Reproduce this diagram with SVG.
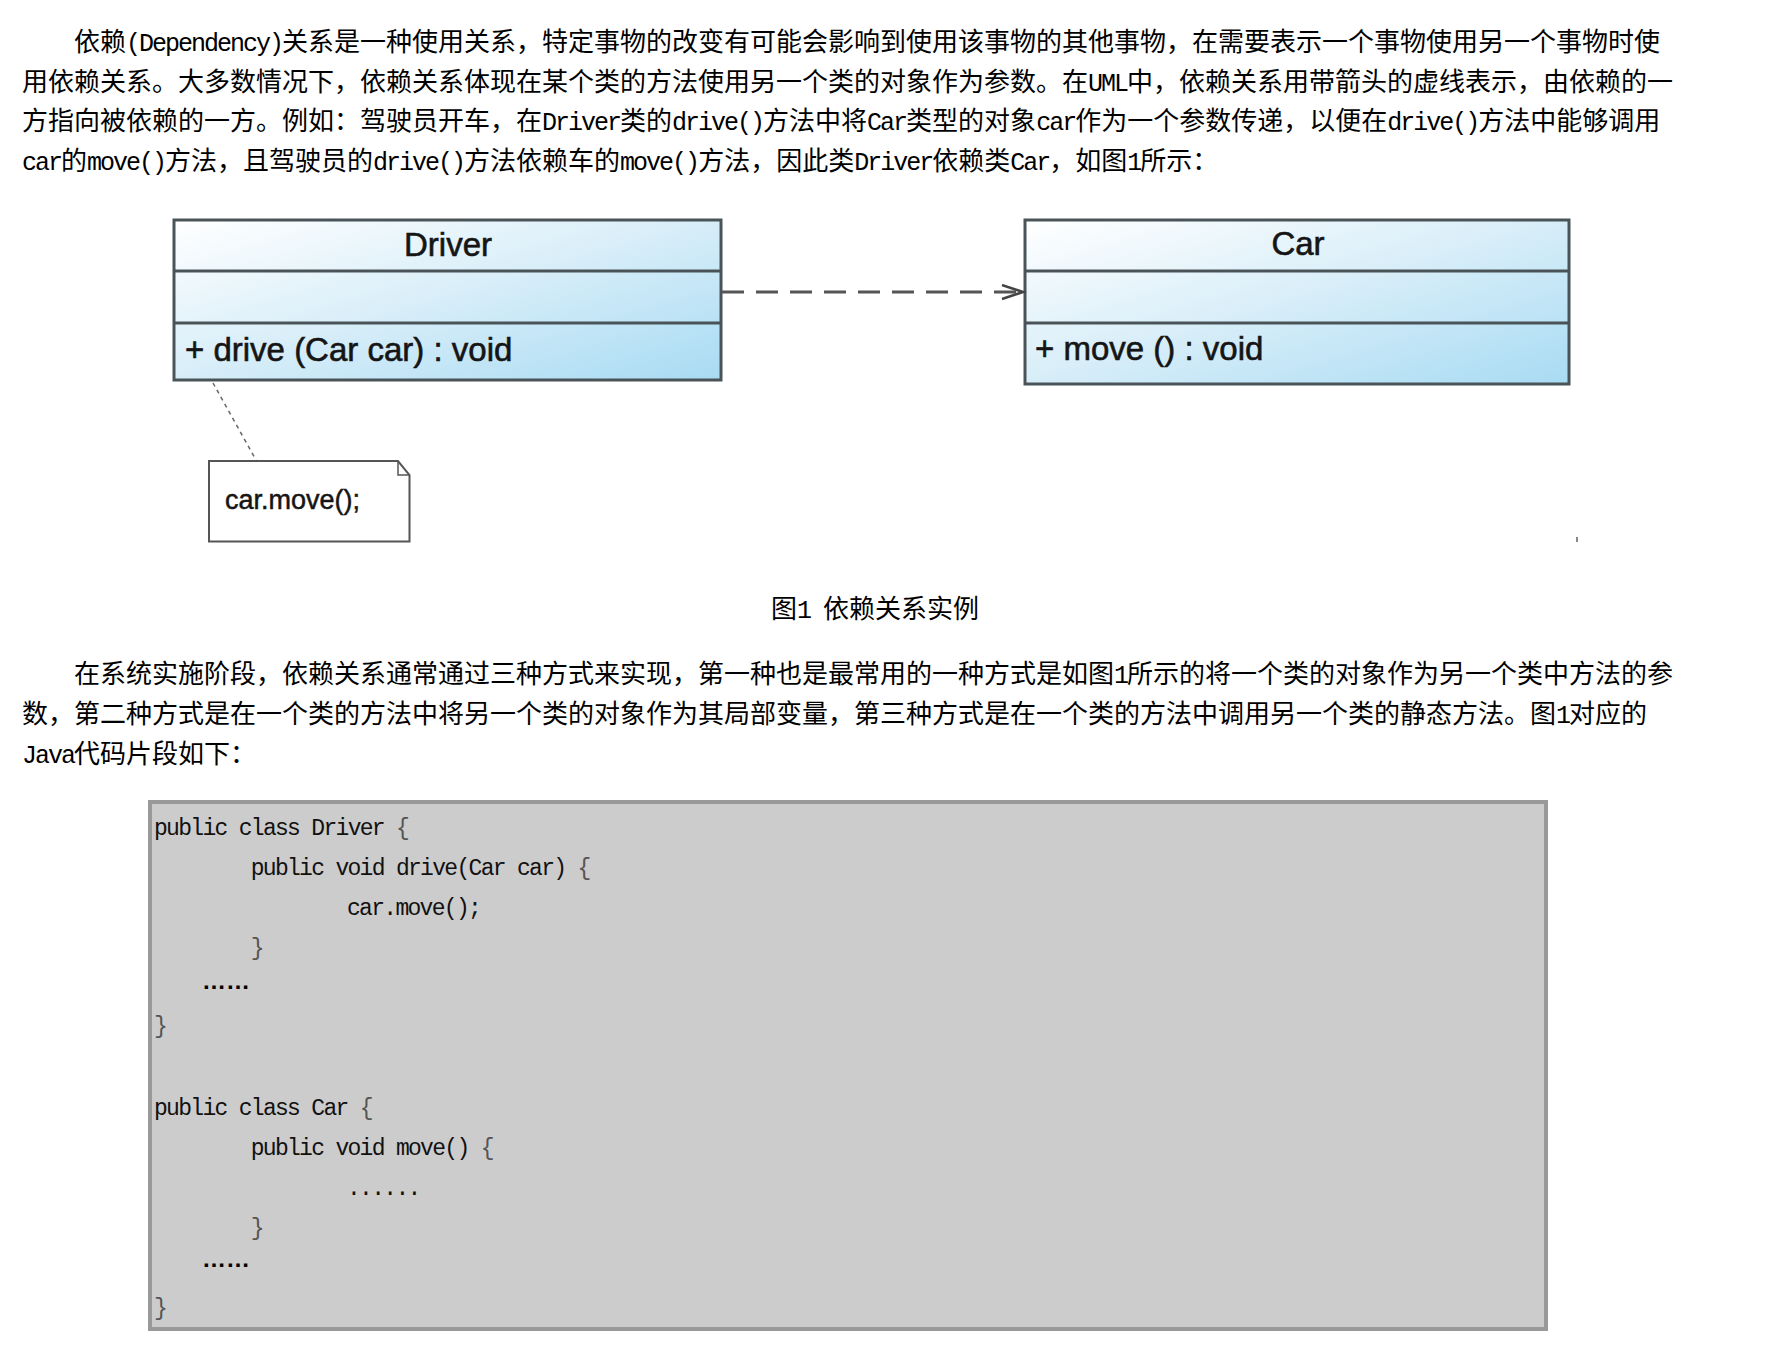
<svg xmlns="http://www.w3.org/2000/svg" width="1776" height="1352" viewBox="0 0 1776 1352">
<defs>
<linearGradient id="cls" x1="0" y1="0" x2="1" y2="1">
<stop offset="0" stop-color="#ffffff"/>
<stop offset="0.45" stop-color="#dbeff9"/>
<stop offset="1" stop-color="#a8dbf3"/>
</linearGradient>
<marker id="open" markerUnits="userSpaceOnUse" markerWidth="26" markerHeight="18" refX="22" refY="8" orient="auto">
<path d="M1,1 L22,8 L1,15" fill="none" stroke="#444" stroke-width="2.5" stroke-dasharray="none"/>
</marker>
</defs>
<style>
.p{font-family:"Noto Sans CJK SC","Noto Sans CJK JP",sans-serif;font-size:26px;fill:#000}
.lat{font-family:"Liberation Mono",monospace;font-size:25px;letter-spacing:-2px}
.box{fill:url(#cls);stroke:#4a5458;stroke-width:3}
.div{stroke:#4a5458;stroke-width:3}
.uml{font-family:"Liberation Sans",Arial,sans-serif;font-size:33px;fill:#151515;stroke:#151515;stroke-width:0.6}
.code{font-family:"Liberation Mono",monospace;font-size:23px;letter-spacing:-1.7px;fill:#111}
.br{fill:#555}
.dots{font-family:"Liberation Sans",Arial,sans-serif;font-size:24px;font-weight:bold;fill:#000}
</style>
<rect width="1776" height="1352" fill="#ffffff"/>

<g id="paragraph1" class="p">
<text x="74" y="51">依赖<tspan class="lat">(Dependency)</tspan>关系是一种使用关系，特定事物的改变有可能会影响到使用该事物的其他事物，在需要表示一个事物使用另一个事物时使</text>
<text x="22" y="90.7">用依赖关系。大多数情况下，依赖关系体现在某个类的方法使用另一个类的对象作为参数。在<tspan class="lat">UML</tspan>中，依赖关系用带箭头的虚线表示，由依赖的一</text>
<text x="22" y="130.3">方指向被依赖的一方。例如：驾驶员开车，在<tspan class="lat">Driver</tspan>类的<tspan class="lat">drive()</tspan>方法中将<tspan class="lat">Car</tspan>类型的对象<tspan class="lat">car</tspan>作为一个参数传递，以便在<tspan class="lat">drive()</tspan>方法中能够调用</text>
<text x="22" y="170"><tspan class="lat">car</tspan>的<tspan class="lat">move()</tspan>方法，且驾驶员的<tspan class="lat">drive()</tspan>方法依赖车的<tspan class="lat">move()</tspan>方法，因此类<tspan class="lat">Driver</tspan>依赖类<tspan class="lat">Car</tspan>，如图<tspan class="lat">1</tspan>所示：</text>
</g>

<g id="driver">
<rect class="box" x="174" y="220" width="547" height="160"/>
<line class="div" x1="174" y1="271" x2="721" y2="271"/>
<line class="div" x1="174" y1="323" x2="721" y2="323"/>
<text class="uml" x="448" y="256" text-anchor="middle">Driver</text>
<text class="uml" x="185" y="361">+ drive (Car car) : void</text>
</g>

<g id="car">
<rect class="box" x="1025" y="220" width="544" height="164"/>
<line class="div" x1="1025" y1="271" x2="1569" y2="271"/>
<line class="div" x1="1025" y1="323" x2="1569" y2="323"/>
<text class="uml" x="1298" y="255" text-anchor="middle">Car</text>
<text class="uml" x="1035" y="360">+ move () : void</text>
</g>

<g id="note">
<path d="M209,461 H398 L409.5,475 V541.5 H209 Z" fill="#ffffff" stroke="#555" stroke-width="2"/>
<path d="M398,461 V475 H409.5" fill="none" stroke="#555" stroke-width="1.5"/>
<text x="225" y="509" font-family="Liberation Sans, Arial, sans-serif" font-size="27" fill="#151515" stroke="#151515" stroke-width="0.5">car.move();</text>
</g>

<g id="connectors">
<path d="M722,292 H1023" fill="none" stroke="#555" stroke-width="3" stroke-dasharray="22 12" marker-end="url(#open)"/>
<path d="M213,383 L256,460" fill="none" stroke="#666" stroke-width="1.5" stroke-dasharray="4 4"/>
</g>

<rect x="1576" y="537" width="2" height="5" fill="#888"/>

<g id="caption" class="p">
<text x="771" y="618">图<tspan class="lat">1 </tspan>依赖关系实例</text>
</g>

<g id="paragraph2" class="p">
<text x="74" y="683">在系统实施阶段，依赖关系通常通过三种方式来实现，第一种也是最常用的一种方式是如图<tspan class="lat">1</tspan>所示的将一个类的对象作为另一个类中方法的参</text>
<text x="22" y="723">数，第二种方式是在一个类的方法中将另一个类的对象作为其局部变量，第三种方式是在一个类的方法中调用另一个类的静态方法。图<tspan class="lat">1</tspan>对应的</text>
<text x="22" y="763"><tspan class="lat">Java</tspan>代码片段如下：</text>
</g>

<g id="code">
<rect x="150" y="802" width="1396" height="527" fill="#cccccc" stroke="#999999" stroke-width="4"/>
<text class="code" x="154" y="835">public class Driver <tspan class="br">{</tspan></text>
<text class="code" x="250.7" y="875">public void drive(Car car) <tspan class="br">{</tspan></text>
<text class="code" x="347" y="915">car.move();</text>
<text class="code br" x="250.7" y="955">}</text>
<text class="dots" x="202" y="989">……</text>
<text class="code br" x="154" y="1033">}</text>
<text class="code" x="154" y="1115">public class Car <tspan class="br">{</tspan></text>
<text class="code" x="250.7" y="1155">public void move() <tspan class="br">{</tspan></text>
<text class="code" x="347" y="1195">......</text>
<text class="code br" x="250.7" y="1235">}</text>
<text class="dots" x="202" y="1267">……</text>
<text class="code br" x="154" y="1315">}</text>
</g>
</svg>
